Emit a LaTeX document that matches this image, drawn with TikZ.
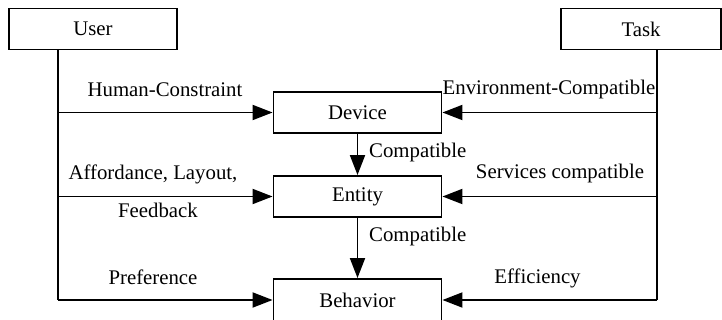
\documentclass[tikz,border=0pt]{standalone}
\usepackage{fontspec}
\setmainfont{Liberation Serif}
\usetikzlibrary{arrows.meta}
\begin{document}
\begin{tikzpicture}[x=1pt,y=-1pt,
  every node/.style={font=\fontsize{20.8}{25}\selectfont},
  box/.style={draw,line width=1.9pt,inner sep=0pt,minimum height=41pt},
  conn/.style={line width=1.9pt},
  arr/.style={conn,-{Triangle[length=20pt,width=15pt]}},
  lbl/.style={inner sep=0pt,anchor=base}]
\clip (0,0) rectangle (722,320);
\useasboundingbox (0,0) rectangle (722,320);
% boxes
\node[box,minimum width=168pt] (user) at (93,29) {User};
\node[box,minimum width=160pt] (task) at (641,29) {Task};
\node[box,minimum width=168pt] (dev) at (357.5,112.5) {Device};
\node[box,minimum width=168pt] (ent) at (357.5,196.5) {Entity};
\node[box,minimum width=168pt,minimum height=42pt] (beh) at (357.5,300) {Behavior};
% junction coordinates
\coordinate (u1) at (58,112.5);
\coordinate (u2) at (58,196.5);
\coordinate (u3) at (58,300);
\coordinate (t1) at (657,112.5);
\coordinate (t2) at (657,196.5);
\coordinate (t3) at (657,300);
% vertical trunks
\draw[conn] (user.south -| u1) -- (u3);
\draw[conn] (task.south -| t1) -- (t3);
% arrows from User
\draw[arr] (u1) -- (dev.west);
\draw[arr] (u2) -- (ent.west);
\draw[arr] (u3) -- (beh.west);
% arrows from Task
\draw[arr] (t1) -- (dev.east);
\draw[arr] (t2) -- (ent.east);
\draw[arr] (t3) -- (beh.east);
% vertical arrows
\draw[arr] (dev.south) -- (ent.north);
\draw[arr] (ent.south) -- (beh.north);
% labels
\node[lbl] (l1) at (165,97) {Human-Constraint};
\node[lbl] (l2) at (549,95) {Environment-Compatible};
\node[lbl,anchor=base west] (l3) at (369,158) {Compatible};
\node[lbl] (l4) at (153,180) {Affordance, Layout,};
\node[lbl] (l5) at (158,218) {Feedback};
\node[lbl] (l6) at (560,179) {Services compatible};
\node[lbl,anchor=base west] (l7) at (369,242) {Compatible};
\node[lbl] (l8) at (153,284) {Preference};
\node[lbl] (l9) at (537.5,283) {Efficiency};
\end{tikzpicture}
\end{document}
